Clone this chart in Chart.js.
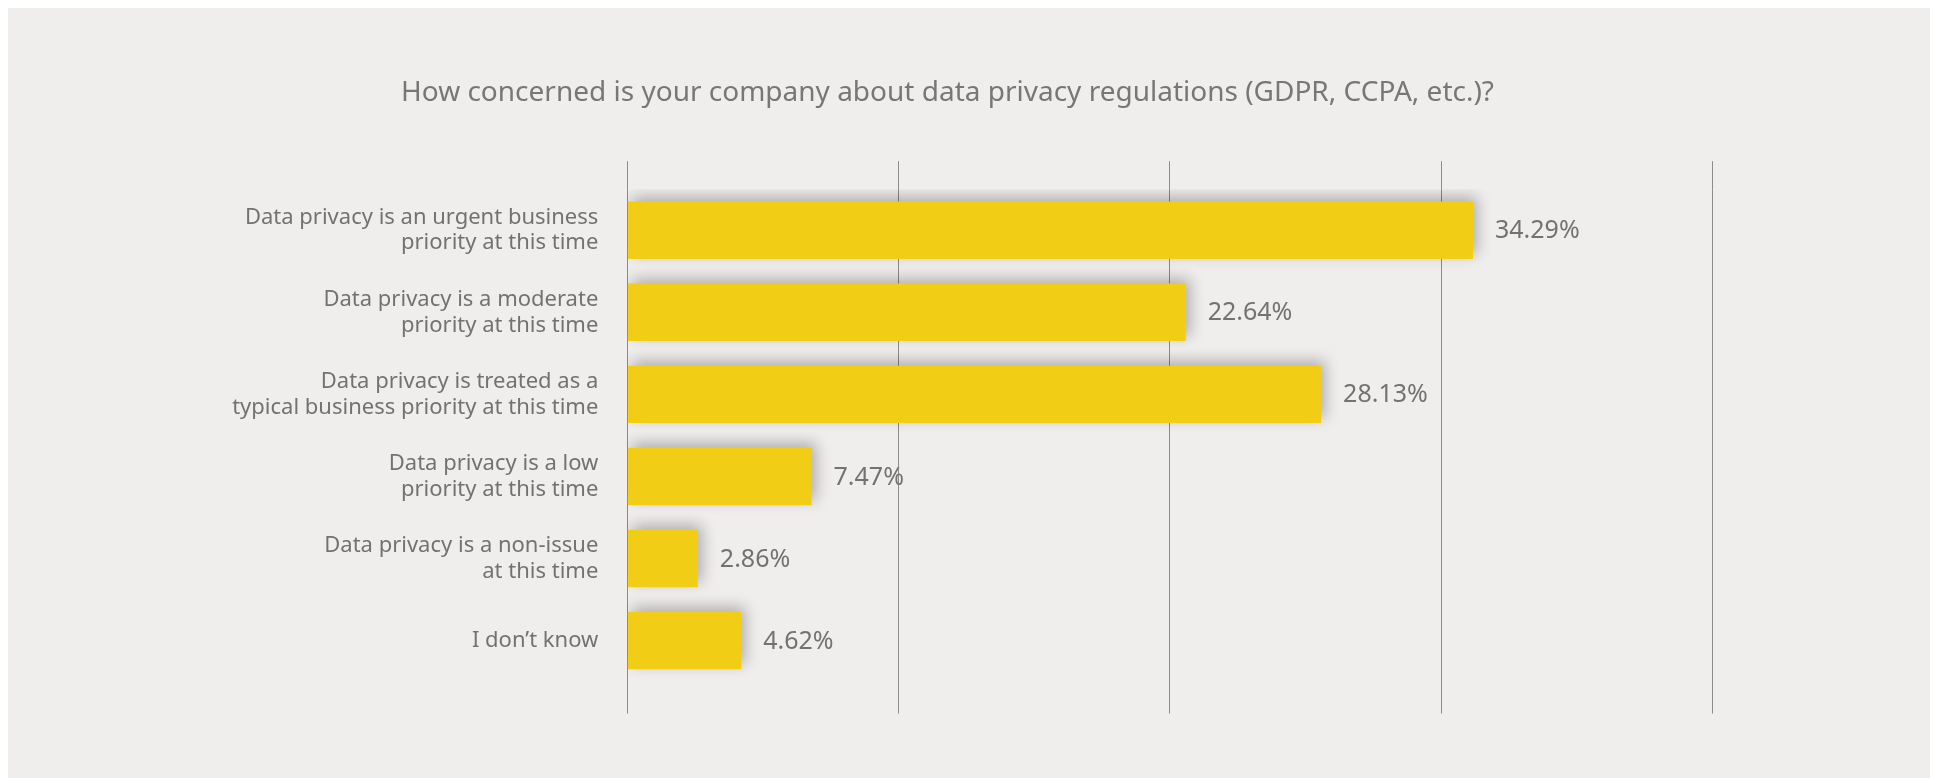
<!DOCTYPE html>
<html>
<head>
<meta charset="utf-8">
<script src="https://cdn.jsdelivr.net/npm/chart.js@4/dist/chart.umd.min.js"></script>
<style>
	html, body { margin: 0; padding: 0; background: #ffffff; }
	#panel { position: absolute; left: 8px; top: 8px; width: 1922px; height: 770px; background: #efeeec; }
	canvas { display: block; }
</style>
</head>
<body>
<div id="panel"><canvas id="privacyChart" width="1922" height="770"></canvas></div>
<script>
const categories = [
	["Data privacy is an urgent business", "priority at this time"],
	["Data privacy is a moderate", "priority at this time"],
	["Data privacy is treated as a", "typical business priority at this time"],
	["Data privacy is a low", "priority at this time"],
	["Data privacy is a non-issue", "at this time"],
	"I don\u2019t know",
];
const shares = [34.29, 22.64, 28.13, 7.47, 2.86, 4.62];
const axisMax = 44;
const axisStep = 11;

const textGrey = "#727272";
const barYellow = "#f2cd16";

// bar shadow + value labels at the end of each bar
const barExtras = {
	id: "barExtras",
	beforeDatasetsDraw(chart) {
		const ctx = chart.ctx;
		ctx.save();
		ctx.shadowColor = "rgba(0, 0, 0, 0.28)";
		ctx.shadowBlur = 14;
		ctx.shadowOffsetX = 4;
		ctx.shadowOffsetY = -5;
	},
	afterDatasetsDraw(chart) {
		const ctx = chart.ctx;
		ctx.restore();
		ctx.save();
		ctx.font = "25px 'Noto Sans'";
		ctx.fillStyle = textGrey;
		ctx.textAlign = "left";
		ctx.textBaseline = "middle";
		chart.getDatasetMeta(0).data.forEach(function (bar, i) {
			ctx.fillText(shares[i].toFixed(2) + "%", bar.x + 22, bar.y + 1);
		});
		ctx.restore();
	},
};

const canvaPrivacy = document.getElementById("privacyChart").getContext("2d");

const myChartPrivacy = new Chart(canvaPrivacy, {
	type: "bar",
	data: {
		labels: categories,
		datasets: [
			{
				data: shares,
				backgroundColor: barYellow,
				borderWidth: 0,
				barPercentage: 0.7,
				categoryPercentage: 1,
			},
		],
	},
	options: {
		indexAxis: "y",
		responsive: false,
		animation: false,
		layout: {
			padding: { left: 174.5, right: 217.5, top: 0, bottom: 64.4 },
		},
		plugins: {
			legend: { display: false },
			tooltip: { enabled: false },
			title: {
				display: true,
				text: "How concerned is your company about data privacy regulations (GDPR, CCPA, etc.)?",
				color: "#777777",
				font: { family: "'Noto Sans'", size: 28, weight: "normal", lineHeight: 1.2 },
				padding: { top: 67.9, bottom: 51.7 },
			},
		},
		scales: {
			x: {
				type: "linear",
				position: "bottom",
				min: 0,
				max: axisMax,
				ticks: { display: false, stepSize: axisStep },
				grid: {
					color: "#8c8c8c",
					lineWidth: 1,
					drawTicks: true,
					tickLength: 32,
				},
				border: { display: false },
			},
			x2: {
				type: "linear",
				position: "top",
				min: 0,
				max: axisMax,
				ticks: { display: false, stepSize: axisStep },
				grid: {
					color: "#8c8c8c",
					lineWidth: 1,
					drawOnChartArea: false,
					drawTicks: true,
					tickLength: 28,
				},
				border: { display: false },
			},
			y: {
				ticks: {
					color: textGrey,
					padding: 29,
					font: { family: "'Noto Sans'", size: 22, lineHeight: 1.18 },
				},
				grid: { display: false, drawTicks: false },
				border: { display: false },
				afterFit(scale) {
					scale.width = 444.8;
				},
			},
		},
	},
	plugins: [barExtras],
});
</script>
</body>
</html>
